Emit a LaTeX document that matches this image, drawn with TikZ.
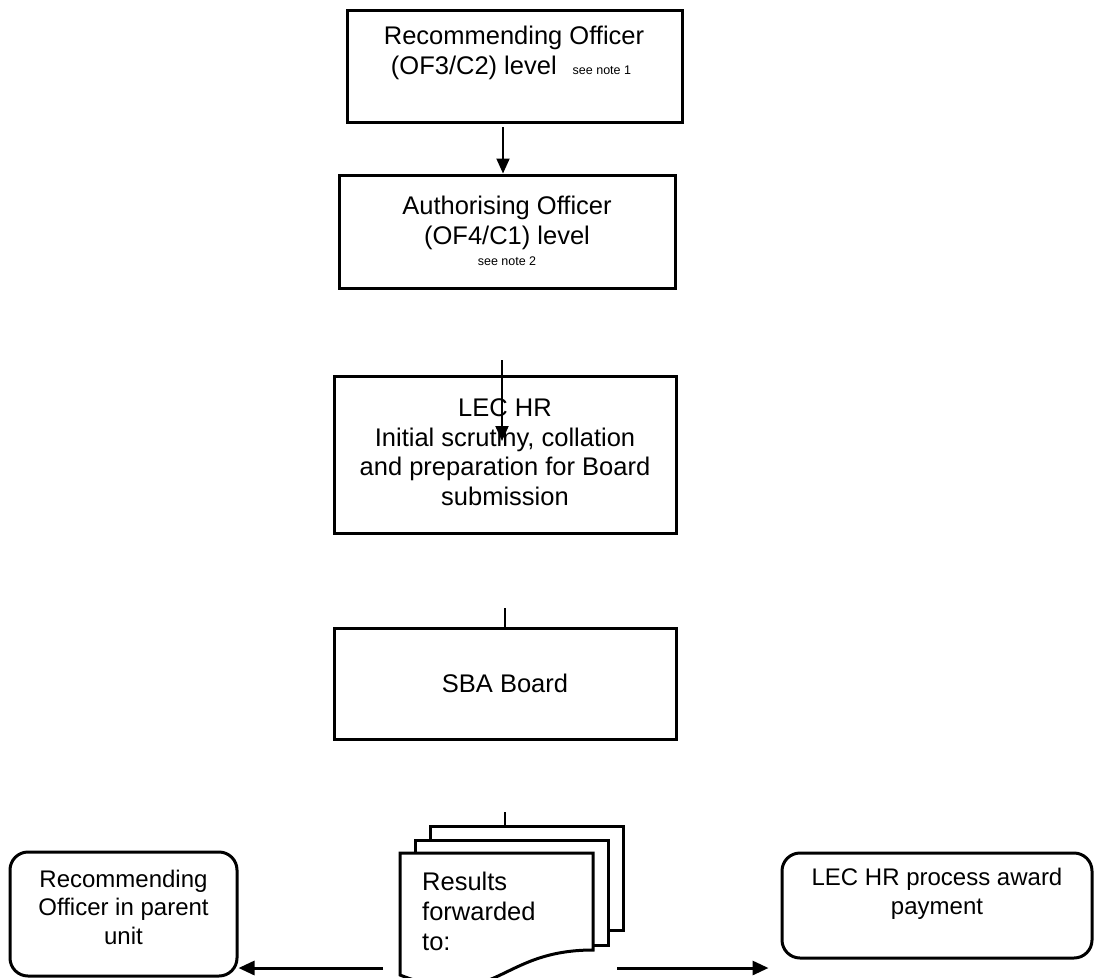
\documentclass[tikz,border=0pt]{standalone}
\usepackage{fontspec}
\setmainfont{Liberation Sans}
\usetikzlibrary{arrows.meta}
\begin{document}
\begin{tikzpicture}[x=1pt,y=-1pt,
  box/.style={draw,line width=3pt,fill=white,inner sep=0pt},
  rbox/.style={draw,line width=3pt,fill=white,inner sep=0pt,rounded corners=18pt},
  page/.style={draw,line width=3pt,fill=white,inner sep=0pt},
  txt/.style={font=\fontsize{25.5}{29.5}\selectfont,align=center,inner sep=0pt},
  stxt/.style={font=\fontsize{24}{28.5}\selectfont,align=center,inner sep=0pt},
  ltxt/.style={font=\fontsize{25.5}{30}\selectfont,align=left,inner sep=0pt},
  note/.style={font=\fontsize{12.5}{14}\selectfont,inner sep=0pt},
  arr/.style={line width=2pt,-{Triangle[width=13pt,length=15pt]}},
  barr/.style={line width=3pt,-{Triangle[width=14pt,length=16pt]}},
  ln/.style={line width=2pt}]
\useasboundingbox (0,0) rectangle (1094,977);
\clip (0,0) rectangle (1094,977);

% top boxes
\node[box,minimum width=335pt,minimum height=112pt] (b1) at (514.5,66) {};
\node[txt,anchor=base] (t1a) at (514,44) {Recommending Officer};
\node[txt,anchor=base] (t1b) at (511,74) {(OF3/C2) level\hspace{16pt}{\fontsize{12.5}{14}\selectfont see note 1}};

\node[box,minimum width=336pt,minimum height=113pt] (b2) at (507,231.5) {};
\node[txt,anchor=base] (t2a) at (507,214) {Authorising Officer};
\node[txt,anchor=base] (t2b) at (507,244) {(OF4/C1) level};
\node[note,anchor=base] (t2c) at (507,265) {see note 2};

\node[box,minimum width=342pt,minimum height=157pt] (b3) at (505,454.5) {};
\node[txt] (t3) at (505,452) {LEC HR\\Initial scrutiny, collation\\and preparation for Board\\submission};

\node[box,minimum width=342pt,minimum height=111pt,txt] (b4) at (505,683.5) {SBA Board};

% connectors
\coordinate (a1s) at (503,127);
\draw[arr] (a1s) -- (a1s |- b2.north);
\coordinate (a2s) at (502,360);
\coordinate (a2e) at (502,441);
\draw[arr] (a2s) -- (a2e);
\coordinate (k1) at (505,608);
\draw[ln] (k1) -- (k1 |- b4.north);

% document stack
\node[page,minimum width=193pt,minimum height=104pt] (dk3) at (526.5,878) {};
\node[page,minimum width=193pt,minimum height=105pt] (dk2) at (511.5,892.5) {};
\draw[page] (400,975) -- (400,853) -- (593,853) -- (593,950)
  .. controls (496.5,950) and (496.5,1013) .. (400,975) -- cycle;
\node[ltxt,anchor=base west] (t5) at (422,890) {Results};
\node[ltxt,anchor=base west] (t6) at (422,920) {forwarded};
\node[ltxt,anchor=base west] (t7) at (422,950) {to:};
\coordinate (k2) at (505,812);
\draw[ln] (k2) -- (k2 |- dk3.north);

% bottom boxes
\node[rbox,minimum width=227pt,minimum height=124pt] (lb) at (123.5,914) {};
\node[stxt] (tl) at (123.5,907) {Recommending\\Officer in parent\\unit};
\node[rbox,minimum width=310pt,minimum height=105pt] (rb) at (937,905.5) {};
\node[stxt] (tr) at (937,894) {LEC HR process award\\payment};

\coordinate (aL) at (383,968);
\draw[barr] (aL) -- (aL -| lb.east);
\coordinate (aR) at (617,968);
\draw[barr,shorten >=12pt] (aR) -- (aR -| rb.west);
\end{tikzpicture}
\end{document}
